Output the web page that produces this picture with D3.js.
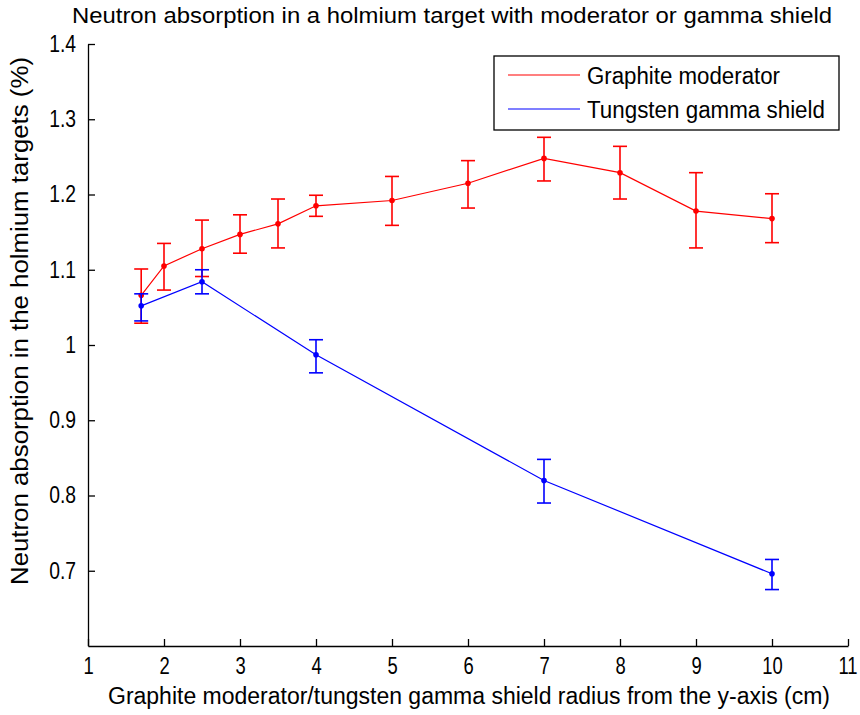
<!DOCTYPE html>
<html><head><meta charset="utf-8">
<script src="https://cdn.jsdelivr.net/npm/d3@7/dist/d3.min.js"></script>
<style>
html,body{margin:0;padding:0;background:#fff;}
text{font-family:"Liberation Sans Narrow","Arial Narrow","Liberation Sans",Arial,sans-serif;fill:#000;}
</style></head>
<body><svg id="c" width="860" height="715"></svg>
<script>
const title = "Neutron absorption in a holmium target with moderator or gamma shield";
const xLabel = "Graphite moderator/tungsten gamma shield radius from the y-axis (cm)";
const yLabel = "Neutron absorption in the holmium targets (%)";
const seriesNames = ["Graphite moderator", "Tungsten gamma shield"];

const graphiteX = [1.7, 2, 2.5, 3, 3.5, 4, 5, 6, 7, 8, 9, 10];
const graphiteY = [1.066, 1.105, 1.128, 1.147, 1.161, 1.185, 1.192, 1.215, 1.248, 1.229, 1.178, 1.168];
const graphiteHi = [1.101, 1.135, 1.166, 1.173, 1.194, 1.199, 1.224, 1.245, 1.276, 1.264, 1.229, 1.201];
const graphiteLo = [1.029, 1.073, 1.091, 1.122, 1.129, 1.171, 1.159, 1.182, 1.218, 1.194, 1.129, 1.136];

const tungstenX = [1.7, 2.5, 4, 7, 10];
const tungstenY = [1.052, 1.084, 0.987, 0.820, 0.696];
const tungstenHi = [1.068, 1.100, 1.007, 0.848, 0.715];
const tungstenLo = [1.032, 1.068, 0.963, 0.790, 0.675];

const xTicks = [1,2,3,4,5,6,7,8,9,10,11];
const yTicks = [0.7,0.8,0.9,1.0,1.1,1.2,1.3,1.4];
const colors = ["#ff0000", "#0000ff"];

const svg = d3.select("#c");
const L = 88, R = 848, T = 44, B = 646;
const x = d3.scaleLinear().domain([1, 11]).range([L, R]);
const y = d3.scaleLinear().domain([0.6, 1.4]).range([B, T]);

function condense(sel, f) {
  sel.each(function () {
    const w = this.getComputedTextLength();
    d3.select(this).attr("textLength", w * f).attr("lengthAdjust", "spacingAndGlyphs");
  });
}

const FS = 23;
// title
svg.append("text").attr("x", 452).attr("y", 23).attr("text-anchor", "middle")
  .attr("font-size", 22).attr("textLength", 760).attr("lengthAdjust", "spacingAndGlyphs").text(title);

// axes
const xAxis = d3.axisBottom(x).tickValues(xTicks).tickSizeInner(-7).tickSizeOuter(0).tickPadding(12)
  .tickFormat(d3.format("d"));
svg.append("g").attr("transform", `translate(0,${B})`).call(xAxis)
  .call(g => {
    g.selectAll("text").attr("font-size", FS).attr("font-family", null);
    condense(g.selectAll("text"), 0.8);
    g.selectAll(".tick").filter(d => d === 11).select("text").attr("text-anchor", "end").attr("x", 9);
  });
const yAxis = d3.axisLeft(y).tickValues(yTicks).tickSizeInner(-7).tickSizeOuter(0).tickPadding(12)
  .tickFormat(d => d === 1 ? "1" : d3.format(".1f")(d));
svg.append("g").attr("transform", `translate(${L},0)`).call(yAxis)
  .call(g => { g.selectAll("text").attr("font-size", FS).attr("font-family", null); condense(g.selectAll("text"), 0.84); });
svg.selectAll(".domain, .tick line").attr("stroke", "#000").attr("stroke-width", 1.3);

// axis labels
svg.append("text").attr("x", 469).attr("y", 704).attr("text-anchor", "middle")
  .attr("font-size", FS).attr("textLength", 722).attr("lengthAdjust", "spacingAndGlyphs").text(xLabel);
svg.append("text").attr("transform", `translate(28,321) rotate(-90)`)
  .attr("text-anchor", "middle").attr("font-size", FS)
  .attr("textLength", 528).attr("lengthAdjust", "spacingAndGlyphs").text(yLabel);

function drawSeries(xs, ys, lo, hi, color) {
  const data = xs.map((v, i) => ({x: v, y: ys[i], lo: lo[i], hi: hi[i]}));
  const g = svg.append("g");
  g.append("path").datum(data).attr("fill", "none").attr("stroke", color).attr("stroke-width", 1.2)
    .attr("d", d3.line().x(d => x(d.x)).y(d => y(d.y)));
  const cap = 7;
  data.forEach(d => {
    g.append("line").attr("x1", x(d.x)).attr("x2", x(d.x)).attr("y1", y(d.lo)).attr("y2", y(d.hi))
      .attr("stroke", color).attr("stroke-width", 1.6);
    [d.lo, d.hi].forEach(v => g.append("line").attr("x1", x(d.x) - cap).attr("x2", x(d.x) + cap)
      .attr("y1", y(v)).attr("y2", y(v)).attr("stroke", color).attr("stroke-width", 1.6));
    g.append("circle").attr("cx", x(d.x)).attr("cy", y(d.y)).attr("r", 2.8).attr("fill", color);
  });
}
drawSeries(graphiteX, graphiteY, graphiteLo, graphiteHi, colors[0]);
drawSeries(tungstenX, tungstenY, tungstenLo, tungstenHi, colors[1]);

// legend
const lg = svg.append("g");
lg.append("rect").attr("x", 494).attr("y", 56).attr("width", 345).attr("height", 74)
  .attr("fill", "#fff").attr("stroke", "#000").attr("stroke-width", 1.3);
const legendLens = [193, 238];
seriesNames.forEach((n, i) => {
  const yy = 75 + i * 34;
  lg.append("line").attr("x1", 508).attr("x2", 580).attr("y1", yy).attr("y2", yy)
    .attr("stroke", colors[i]).attr("stroke-width", 1.2);
  lg.append("text").attr("x", 587).attr("y", yy + 9).attr("font-size", FS)
    .attr("textLength", legendLens[i]).attr("lengthAdjust", "spacingAndGlyphs").text(n);
});
</script></body></html>
